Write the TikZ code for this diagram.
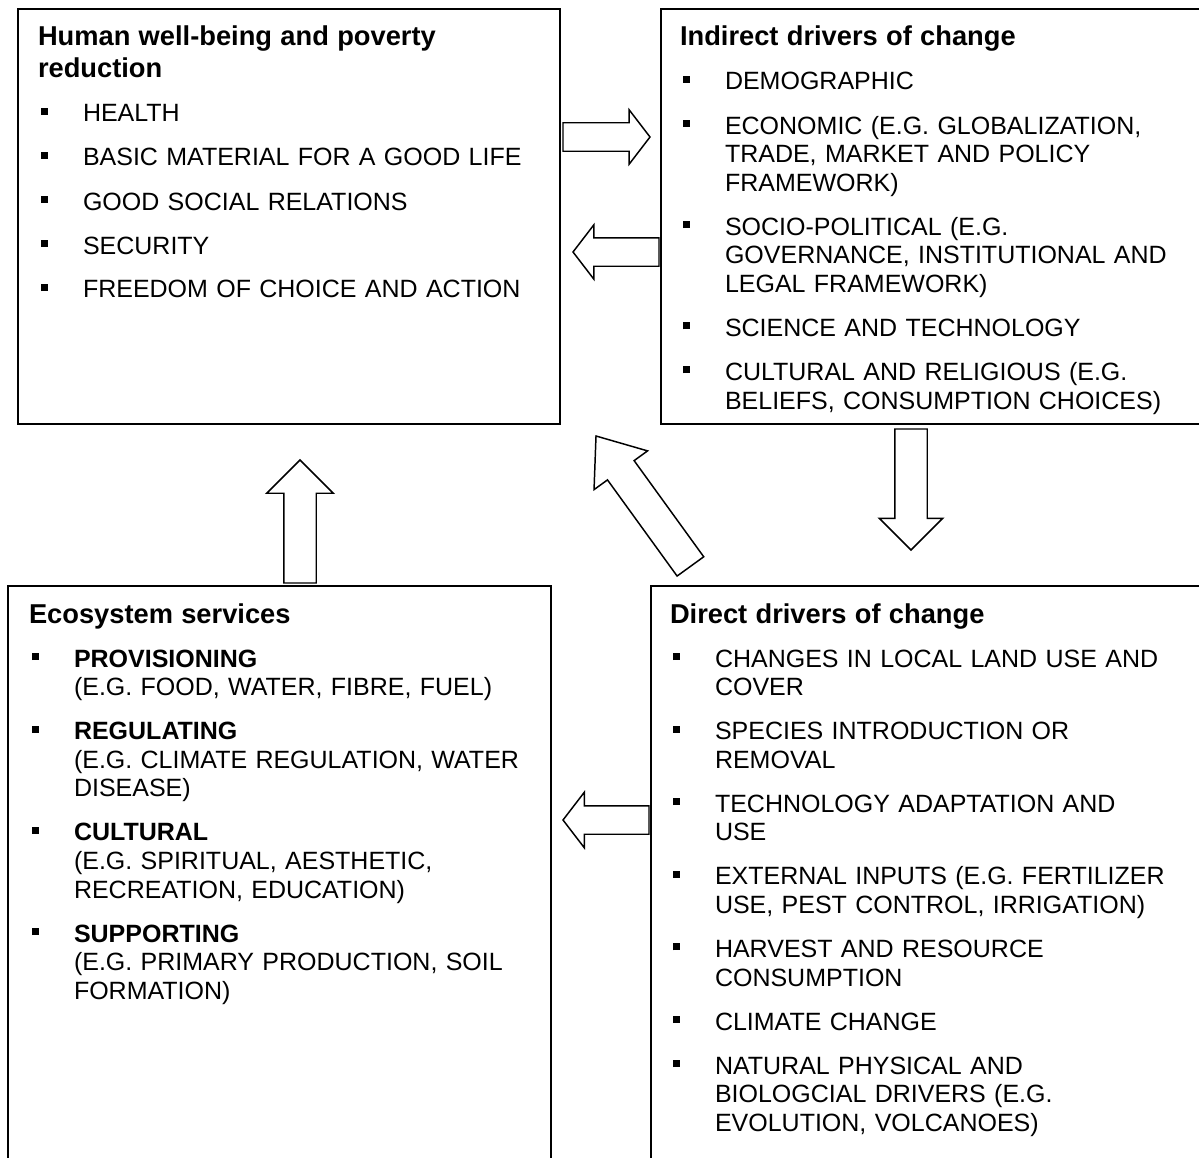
\documentclass[tikz,border=0pt]{standalone}
\usepackage{fontspec}
\setmainfont{Liberation Sans}
\usetikzlibrary{positioning,shapes.arrows}
\newdimen\pxu
\pxu=0.44pt
\newcommand\nl{\unskip\nobreak\hfil\break}
\newcommand\boxhead[1]{{\fontsize{12pt}{32\pxu}\selectfont\bfseries\rule{0pt}{22\pxu}#1\par}}
\newcommand\itm[1]{\hangindent=45\pxu\hangafter=1\noindent\makebox[45\pxu][l]{\hspace{3\pxu}\rule[7\pxu]{7\pxu}{7\pxu}}#1\par}
\tikzset{
  panel/.style={draw=black,line width=0.9pt,anchor=north west,inner sep=0pt,outer sep=0pt},
  panetext/.style={inner sep=0pt,outer sep=0pt,text width=515\pxu,
    execute at begin node={\setlength{\parskip}{15.4\pxu}\frenchspacing}},
  blockarrow/.style={single arrow,draw=black,line width=0.65pt,fill=white,inner xsep=0pt,outer sep=0pt,
    single arrow head indent=0pt,anchor=tip}
}

\begin{document}
\begin{tikzpicture}[x=\pxu,y=-\pxu,font=\fontsize{11pt}{28.6\pxu}\selectfont]
\useasboundingbox (0,0) rectangle (1199,1157);
\node[panel,minimum width=542\pxu,minimum height=415\pxu] (wellbeing) at (18,9) {};
\node[panel,minimum width=545\pxu,minimum height=415\pxu] (indirect) at (661,9) {};
\node[panel,minimum width=543\pxu,minimum height=580\pxu] (services) at (8,586) {};
\node[panel,minimum width=555\pxu,minimum height=580\pxu] (direct) at (651,586) {};

\node[panetext,below right=15\pxu and 20\pxu of wellbeing.north west] (wellbeingtxt) {%
\boxhead{Human well-being and poverty\nl reduction}
\itm{HEALTH}
\itm{BASIC MATERIAL FOR A GOOD LIFE}
\itm{GOOD SOCIAL RELATIONS}
\itm{SECURITY}
\itm{FREEDOM OF CHOICE AND ACTION}};

\node[panetext,below right=15\pxu and 19\pxu of indirect.north west] (indirecttxt) {%
\boxhead{Indirect drivers of change}
\itm{DEMOGRAPHIC}
\itm{ECONOMIC (E.G. GLOBALIZATION,\nl TRADE, MARKET AND POLICY\nl FRAMEWORK)}
\itm{SOCIO-POLITICAL (E.G.\nl GOVERNANCE, INSTITUTIONAL AND\nl LEGAL FRAMEWORK)}
\itm{SCIENCE AND TECHNOLOGY}
\itm{CULTURAL AND RELIGIOUS (E.G.\nl BELIEFS, CONSUMPTION CHOICES)}};

\node[panetext,below right=15\pxu and 21\pxu of services.north west] (servicestxt) {%
\boxhead{Ecosystem services}
\itm{\textbf{PROVISIONING}\nl (E.G. FOOD, WATER, FIBRE, FUEL)}
\itm{\textbf{REGULATING}\nl (E.G. CLIMATE REGULATION, WATER\nl DISEASE)}
\itm{\textbf{CULTURAL}\nl (E.G. SPIRITUAL, AESTHETIC,\nl RECREATION, EDUCATION)}
\itm{\textbf{SUPPORTING}\nl (E.G. PRIMARY PRODUCTION, SOIL\nl FORMATION)}};

\node[panetext,below right=15\pxu and 19\pxu of direct.north west] (directtxt) {%
\boxhead{Direct drivers of change}
\itm{CHANGES IN LOCAL LAND USE AND\nl COVER}
\itm{SPECIES INTRODUCTION OR\nl REMOVAL}
\itm{TECHNOLOGY ADAPTATION AND\nl USE}
\itm{EXTERNAL INPUTS (E.G. FERTILIZER\nl USE, PEST CONTROL, IRRIGATION)}
\itm{HARVEST AND RESOURCE\nl CONSUMPTION}
\itm{CLIMATE CHANGE}
\itm{NATURAL PHYSICAL AND\nl BIOLOGCIAL DRIVERS (E.G.\nl EVOLUTION, VOLCANOES)}};

\node[blockarrow,minimum height=87\pxu,inner ysep=13.5\pxu,single arrow head extend=13\pxu,single arrow tip angle=105] (toindirect) at (650,137) {};
\node[blockarrow,rotate=180,minimum height=86\pxu,inner ysep=13.5\pxu,single arrow head extend=13\pxu,single arrow tip angle=105] (towellbeing) at (573,252) {};
\node[blockarrow,rotate=-90,minimum height=121\pxu,inner ysep=15.5\pxu,single arrow head extend=15.5\pxu,single arrow tip angle=90] (todirect) at (911,550) {};
\node[blockarrow,rotate=90,minimum height=123\pxu,inner ysep=15.5\pxu,single arrow head extend=17\pxu,single arrow tip angle=90] (fromservices) at (300,460) {};
\node[blockarrow,rotate=180,minimum height=86\pxu,inner ysep=13.5\pxu,single arrow head extend=13.5\pxu,single arrow tip angle=105] (toservices) at (563,820) {};
\node[blockarrow,rotate=125.9,minimum height=161\pxu,inner ysep=15.7\pxu,single arrow head extend=16.6\pxu,single arrow tip angle=76] (fromdirect) at (596,436) {};
\end{tikzpicture}
\end{document}
